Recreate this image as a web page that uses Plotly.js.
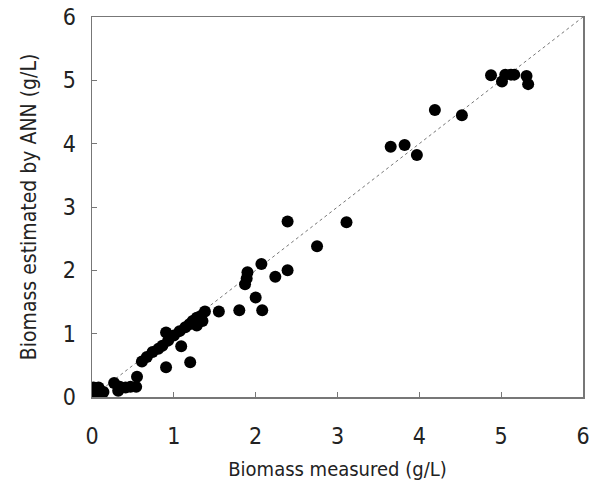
<!DOCTYPE html>
<html><head><meta charset="utf-8">
<script src="https://cdn.plot.ly/plotly-3.0.1.min.js"></script>
<style>html,body{margin:0;padding:0;background:#fff}</style>
</head><body>
<div id="chart" style="width:599px;height:492px"></div>
<script>
const measured = [0.00,0.02,0.05,0.08,0.12,0.00,0.03,0.10,0.14,0.27,0.32,0.34,0.41,0.47,0.54,0.55,
  0.61,0.67,0.74,0.81,0.86,0.93,1.00,1.07,1.14,1.19,1.23,1.28,1.28,1.33,1.35,1.38,
  0.905,1.09,1.20,0.905,1.55,1.80,1.87,1.89,1.90,2.00,2.08,2.07,2.24,2.39,2.39,2.75,3.11,
  3.65,3.82,3.97,4.19,4.52,4.876,5.01,5.05,5.12,5.16,5.31,5.33];
const estimated = [0.02,0.15,0.10,0.15,0.05,0.00,0.06,0.10,0.08,0.22,0.10,0.16,0.15,0.16,0.16,0.32,
  0.56,0.63,0.71,0.76,0.81,0.89,0.97,1.04,1.10,1.15,1.20,1.25,1.13,1.28,1.20,1.35,
  1.02,0.80,0.55,0.47,1.35,1.37,1.78,1.87,1.97,1.57,1.37,2.10,1.90,2.00,2.77,2.38,2.76,
  3.95,3.98,3.82,4.53,4.45,5.08,4.98,5.09,5.09,5.09,5.07,4.94];
const lineX = [0, 6];
const lineY = [0, 6];
const tickVals = [0,1,2,3,4,5,6];

const font = '"DejaVu Sans Condensed", "Liberation Sans Narrow", "Arial Narrow", sans-serif';
const data = [
  {x: lineX, y: lineY, mode: 'lines', line: {color: '#777', width: 1, dash: 'dot'}, hoverinfo: 'skip'},
  {x: measured, y: estimated, mode: 'markers', marker: {color: '#000', size: 12}}
];
const axisBase = {
  range: [0, 6], tickvals: tickVals, ticks: 'inside', ticklen: 5, tickcolor: '#777',
  showline: true, linecolor: '#777', linewidth: 1.5, mirror: true, showgrid: false, zeroline: false,
  tickfont: {family: font, size: 23, color: '#222'}
};
const layout = {
  width: 599, height: 492, showlegend: false,
  margin: {l: 92, r: 16, t: 17, b: 95},
  paper_bgcolor: '#fff', plot_bgcolor: '#fff',
  xaxis: Object.assign({}, axisBase, {ticklabelstandoff: 18,
    title: {text: 'Biomass measured (g/L)', font: {family: font, size: 20, color: '#222'}, standoff: 14}}),
  yaxis: Object.assign({}, axisBase, {ticklabelstandoff: 10,
    title: {text: 'Biomass estimated by ANN (g/L)', font: {family: font, size: 21, color: '#222'}, standoff: 20}})
};
Plotly.newPlot('chart', data, layout, {displayModeBar: false, staticPlot: true});
</script>
</body></html>
